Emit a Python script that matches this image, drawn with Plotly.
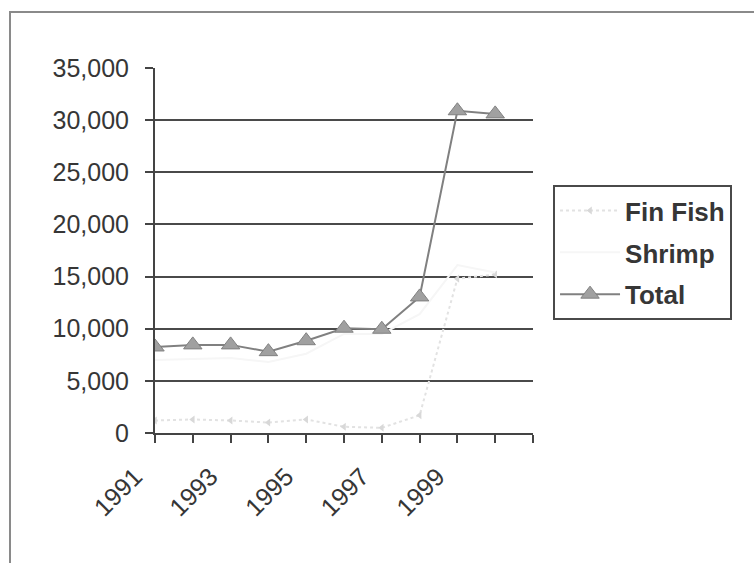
import plotly.graph_objects as go

# Annual catch by species group
years = [1991, 1992, 1993, 1994, 1995, 1996, 1997, 1998, 1999, 2000]
fin_fish = [1200, 1300, 1200, 1000, 1300, 600, 500, 1700, 14800, 15200]
shrimp = [7000, 7100, 7200, 6800, 7600, 9500, 9500, 11400, 16100, 15400]
total = [8250, 8450, 8450, 7800, 8850, 10050, 9950, 13050, 30900, 30600]

x_ticks = [1991, 1992, 1993, 1994, 1995, 1996, 1997, 1998, 1999, 2000, 2001]
x_labels = ["1991", "", "1993", "", "1995", "", "1997", "", "1999", "", ""]
y_labels = [0, 5000, 10000, 15000, 20000, 25000, 30000, 35000]
y_grid = [5000, 10000, 15000, 20000, 25000, 30000]

FONT = "Liberation Sans, Arial, sans-serif"
INK = "#363636"

fig = go.Figure()
fig.add_trace(go.Scatter(
    x=years, y=fin_fish, name="Fin Fish", mode="lines+markers",
    line=dict(color="#e2e2e2", width=2, dash="dot"),
    marker=dict(symbol="triangle-left", size=7, color="#d8d8d8"),
    legendgroup="a",
))
fig.add_trace(go.Scatter(
    x=years, y=shrimp, name="Shrimp", mode="lines",
    line=dict(color="#f6f6f6", width=2),
    legendgroup="b",
))
fig.add_trace(go.Scatter(
    x=years, y=total, name="Total", mode="lines+markers",
    line=dict(color="#808080", width=2),
    marker=dict(symbol="triangle-up", size=16, color="#a0a0a0",
                line=dict(color="#808080", width=1)),
    legendgroup="c",
))

fig.update_layout(
    width=754, height=563,
    margin=dict(l=155, r=221, t=68, b=130),
    paper_bgcolor="white", plot_bgcolor="white",
    font=dict(family=FONT, size=25, color=INK),
    showlegend=True,
    legend=dict(
        x=1.053, y=0.679, xanchor="left", yanchor="top",
        bgcolor="white", bordercolor="#4a4a4a", borderwidth=2,
        font=dict(family=FONT, size=26, color=INK, weight="bold"),
        tracegroupgap=5, itemwidth=60,
    ),
    xaxis=dict(
        range=[1991, 2001], tickvals=x_ticks, ticktext=x_labels,
        tickangle=-45, ticks="outside", ticklen=8, tickwidth=2,
        tickcolor="#444", showline=True, linecolor="#444", linewidth=2,
        showgrid=False, zeroline=False, ticklabelstandoff=9,
        ticklabelshift=-20,
        tickfont=dict(family=FONT, size=25, color=INK),
    ),
    yaxis=dict(
        range=[0, 35000], tickvals=y_labels, tickformat=",d",
        ticks="outside", ticklen=8, tickwidth=2, tickcolor="#444",
        showline=True, linecolor="#444", linewidth=2,
        showgrid=False, zeroline=False, ticklabelstandoff=11,
        tickfont=dict(family=FONT, size=25, color=INK),
        minor=dict(tickvals=y_grid, showgrid=True, gridcolor="#4a4a4a",
                   gridwidth=2, ticks=""),
    ),
)

# Chart-area border
fig.add_shape(type="rect", xref="paper", yref="paper",
              x0=-0.3836, x1=2.0, y0=-1.0, y1=1.1534,
              line=dict(color="#8a8a8a", width=2), fillcolor="rgba(0,0,0,0)",
              layer="below")

fig.write_html("out.html")
